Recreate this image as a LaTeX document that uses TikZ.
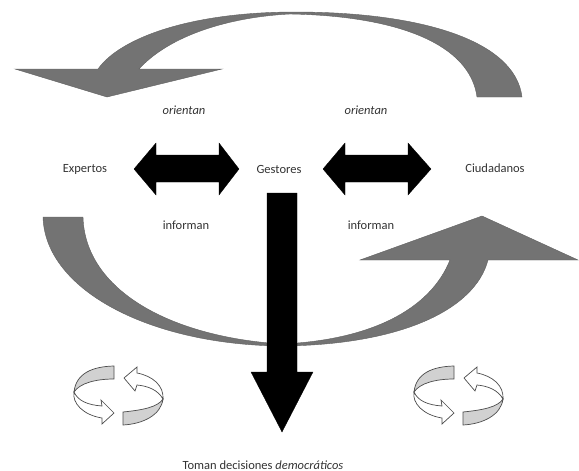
\documentclass[tikz,border=0pt]{standalone}
\usepackage{fontspec}
\setmainfont{Carlito}
\begin{document}
\begin{tikzpicture}[x=1pt,y=-1pt,
  lbl/.style={font=\fontsize{12.5}{14}\selectfont, text=black!80, inner sep=0pt},
  band/.style={fill=black!55, draw=black!62, line width=0.4pt},
  blk/.style={fill=black, draw=black, line width=0.3pt},
  tailface/.style={fill=black!18, draw=black!70, line width=0.7pt},
  headface/.style={fill=white, draw=black!70, line width=0.7pt},
  cyc/.pic={
    \path[tailface] (-4,-29) .. controls (-25,-28.5) and (-42,-22) .. (-44,-3)
       .. controls (-38,-12) and (-22,-16) .. (-4,-16) -- cycle;
    \path[headface] (-44,-3) .. controls (-40,6) and (-30,10) .. (-16,11)
       -- (-17,5) -- (-4,18) -- (-16,29) -- (-16,23)
       .. controls (-35,20) and (-46,8) .. (-44,-3) -- cycle;
    \path[tailface] (5,17) .. controls (25,15) and (40,12) .. (45,4)
       .. controls (43,20) and (25,29) .. (5,30) -- cycle;
    \path[headface] (45,4) .. controls (40,-5) and (30,-9) .. (19,-10)
       -- (17,-4) -- (6,-17) -- (19,-28) -- (19,-22)
       .. controls (35,-19) and (46,-9) .. (45,4) -- cycle;
  }]
\useasboundingbox (0,0) rectangle (579,471);

% top curved arrow (orientan)
\path[band] (522,97) .. controls (515,40) and (420,12) .. (295,12)
  .. controls (190,12) and (120,38) .. (98,69)
  -- (15,69) -- (107,97) -- (222,69) -- (139,69)
  .. controls (170,35) and (230,17) .. (290,14)
  .. controls (400,16) and (470,45) .. (477,97) -- cycle;

% bottom left curved band
\path[band] (43,217) .. controls (45,290) and (150,345) .. (282,346)
  -- (282,344) .. controls (170,337) and (85,290) .. (83,217) -- cycle;

% bottom right curved arrow (informan)
\path[band] (282,346) .. controls (400,345) and (475,310) .. (488,260)
  -- (578,260) -- (482,216) -- (360,260) -- (450,260)
  .. controls (430,310) and (370,340) .. (282,344) -- cycle;

% double arrows
\path[blk] (134,169) -- (156,143) -- (156,155) -- (219,155) -- (219,143) -- (239,169)
  -- (219,195) -- (219,182) -- (156,182) -- (156,195) -- cycle;
\path[blk] (323,169) -- (345,143) -- (345,155) -- (408,155) -- (408,143) -- (431,169)
  -- (408,195) -- (408,182) -- (345,182) -- (345,195) -- cycle;

% vertical arrow
\path[blk] (267,193) -- (297,193) -- (297,372) -- (313,372) -- (282,432)
  -- (251,372) -- (267,372) -- cycle;

% labels
\node[lbl] (or1) at (184,110) {\itshape orientan};
\node[lbl] (or2) at (366,110) {\itshape orientan};
\node[lbl] (exp) at (85,169) {Expertos};
\node[lbl] (ges) at (279,169) {Gestores};
\node[lbl] (ciu) at (495,168) {Ciudadanos};
\node[lbl] (inf1) at (186,225) {informan};
\node[lbl] (inf2) at (371,225) {informan};
\node[lbl] (tom) at (263,465) {Toman decisiones \textit{democráticos}};

% cycle icons
\pic (c1) at (118,395) {cyc};
\pic (c2) at (458,395) {cyc};
\end{tikzpicture}
\end{document}
